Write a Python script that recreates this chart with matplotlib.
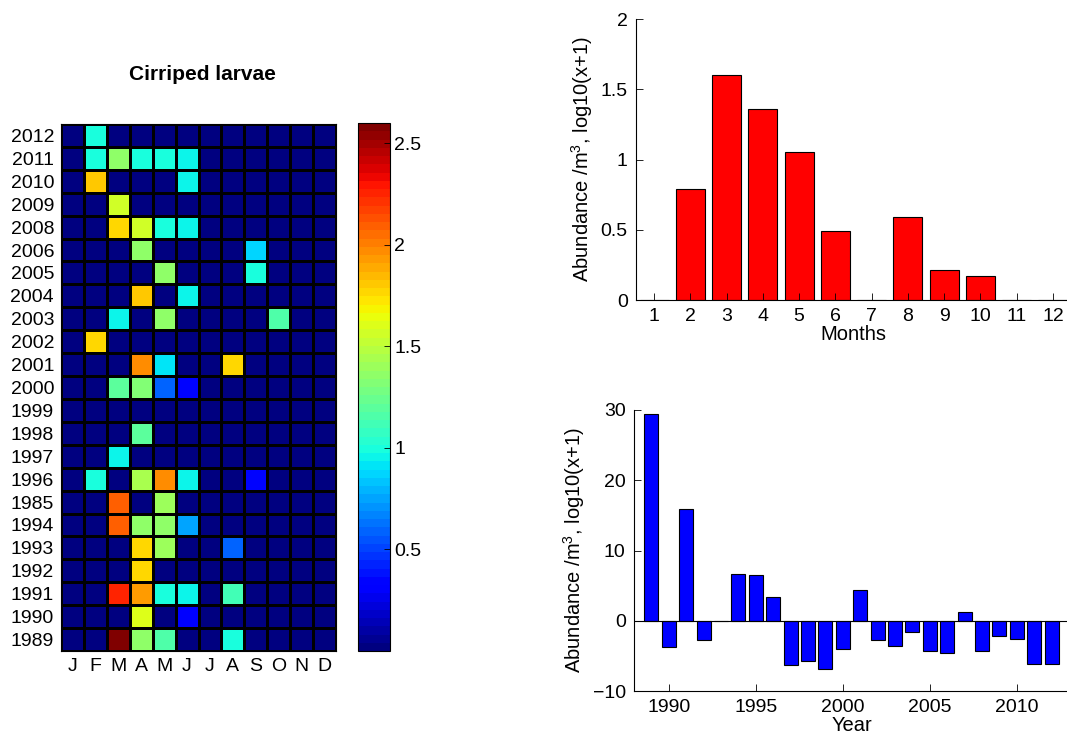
import numpy as np
import matplotlib
matplotlib.use("Agg")
import matplotlib.pyplot as plt
from matplotlib.ticker import FormatStrFormatter

plt.rcParams['font.family'] = ['Liberation Sans', 'DejaVu Sans']
plt.rcParams['mathtext.default'] = 'regular'

# ---------------- data ----------------
month_letters = ["J", "F", "M", "A", "M", "J", "J", "A", "S", "O", "N", "D"]
year_labels = ["2012", "2011", "2010", "2009", "2008", "2006", "2005", "2004",
               "2003", "2002", "2001", "2000", "1999", "1998", "1997", "1996",
               "1985", "1994", "1993", "1992", "1991", "1990", "1989"]
# heatmap rows, top to bottom (J..D)
heat_values = [
    [0, 0.98, 0, 0, 0, 0, 0, 0, 0, 0, 0, 0],            # 2012
    [0, 0.98, 1.35, 0.98, 0.98, 0.95, 0, 0, 0, 0, 0, 0],  # 2011
    [0, 1.80, 0, 0, 0, 0.95, 0, 0, 0, 0, 0, 0],          # 2010
    [0, 0, 1.55, 0, 0, 0, 0, 0, 0, 0, 0, 0],             # 2009
    [0, 0, 1.76, 1.55, 0.98, 0.95, 0, 0, 0, 0, 0, 0],    # 2008
    [0, 0, 0, 1.35, 0, 0, 0, 0, 0.88, 0, 0, 0],          # 2006
    [0, 0, 0, 0, 1.35, 0, 0, 0, 0.98, 0, 0, 0],          # 2005
    [0, 0, 0, 1.80, 0, 0.95, 0, 0, 0, 0, 0, 0],          # 2004
    [0, 0, 0.95, 0, 1.35, 0, 0, 0, 0, 1.15, 0, 0],       # 2003
    [0, 1.76, 0, 0, 0, 0, 0, 0, 0, 0, 0, 0],             # 2002
    [0, 0, 0, 1.95, 0.90, 0, 0, 1.76, 0, 0, 0, 0],       # 2001
    [0, 0, 1.20, 1.30, 0.60, 0.35, 0, 0, 0, 0, 0, 0],    # 2000
    [0, 0, 0, 0, 0, 0, 0, 0, 0, 0, 0, 0],                # 1999
    [0, 0, 0, 1.20, 0, 0, 0, 0, 0, 0, 0, 0],             # 1998
    [0, 0, 0.95, 0, 0, 0, 0, 0, 0, 0, 0, 0],             # 1997
    [0, 0.98, 0, 1.45, 1.95, 0.95, 0, 0, 0.35, 0, 0, 0], # 1996
    [0, 0, 2.10, 0, 1.40, 0, 0, 0, 0, 0, 0, 0],          # 1985
    [0, 0, 2.10, 1.35, 1.35, 0.75, 0, 0, 0, 0, 0, 0],    # 1994
    [0, 0, 0, 1.75, 1.40, 0, 0, 0.60, 0, 0, 0, 0],       # 1993
    [0, 0, 0, 1.75, 0, 0, 0, 0, 0, 0, 0, 0],             # 1992
    [0, 0, 2.25, 1.92, 0.98, 0.95, 0, 1.10, 0, 0, 0, 0], # 1991
    [0, 0, 0, 1.62, 0, 0.30, 0, 0, 0, 0, 0, 0],          # 1990
    [0, 0, 2.60, 1.38, 1.15, 0, 0, 1.00, 0, 0, 0, 0],    # 1989
]
colorbar_ticks = [0.5, 1, 1.5, 2, 2.5]

months = [1, 2, 3, 4, 5, 6, 7, 8, 9, 10, 11, 12]
monthly_abundance = [0, 0.79, 1.60, 1.36, 1.05, 0.49, 0, 0.59, 0.21, 0.17, 0, 0]

years = list(range(1989, 2013))
yearly_anomaly = [29.45, -3.7, 15.87, -2.76, 0, 6.65, 6.5, 3.37, -6.37, -5.7,
                  -6.84, -4.04, 4.37, -2.76, -3.56, -1.6, -4.37, -4.56, 1.28,
                  -4.37, -2.14, -2.57, -6.18, -6.18]

ylabel_text = 'Abundance /m$^{3}$, log10(x+1)'

# ---------------- figure ----------------
W, H = 1067, 740
fig = plt.figure(figsize=(W / 100, H / 100), dpi=100)

def fax(l, t, r, b):
    return [l / W, 1 - b / H, (r - l) / W, (b - t) / H]

FS = 14
LFS = 14.5

# heatmap
axh = fig.add_axes(fax(61, 124, 336, 651))
data = np.array(heat_values)
cmap = plt.get_cmap('jet', 64)
mesh = axh.pcolormesh(np.arange(len(month_letters) + 1), np.arange(len(year_labels) + 1),
                      data, cmap=cmap, vmin=0, vmax=2.6,
                      edgecolors='black', linewidth=0.8)
axh.set_xlim(0, len(month_letters))
axh.set_ylim(len(year_labels), 0)
axh.set_xticks(np.arange(len(month_letters)) + 0.5)
axh.set_xticklabels(month_letters)
axh.set_yticks(np.arange(len(year_labels)) + 0.5)
axh.set_yticklabels(year_labels)
axh.tick_params(length=0, labelsize=FS, pad=5)
for s in axh.spines.values():
    s.set_linewidth(0.8)
fig.text(202 / W, 1 - 75 / H, "Cirriped larvae", ha='center', va='center',
         fontsize=15, fontweight='bold')

# colorbar
cax = fig.add_axes(fax(358, 123, 390, 651))
cb = fig.colorbar(mesh, cax=cax, ticks=colorbar_ticks)
cb.ax.yaxis.set_major_formatter(FormatStrFormatter('%g'))
cb.ax.tick_params(labelsize=FS, direction='in', length=4, width=0.6, pad=3)
cb.outline.set_linewidth(0.8)

# top-right monthly bars
ax1 = fig.add_axes(fax(636, 19, 1071, 300))
ax1.bar(months, monthly_abundance, width=0.8, color='#ff0000', edgecolor='black', linewidth=0.8)
ax1.set_xlim(0.5, 12.5)
ax1.set_ylim(0, 2)
ax1.set_xticks(months)
ax1.set_yticks([0, 0.5, 1, 1.5, 2])
ax1.yaxis.set_major_formatter(FormatStrFormatter('%g'))
ax1.set_xlabel("Months", fontsize=LFS, labelpad=0)
ax1.set_ylabel(ylabel_text, fontsize=LFS, labelpad=4)
ax1.spines['top'].set_visible(False)
ax1.spines['right'].set_visible(False)
ax1.tick_params(direction='in', labelsize=FS, length=5, width=0.6, pad=6)

# bottom-right yearly bars
ax2 = fig.add_axes(fax(634, 410, 1069, 691))
ax2.bar(years, yearly_anomaly, width=0.8, color='#0000ff', edgecolor='black', linewidth=0.8)
ax2.axhline(0, color='black', linewidth=0.8)
ax2.set_xlim(1988, 2013)
ax2.set_ylim(-10, 30)
ax2.set_xticks([1990, 1995, 2000, 2005, 2010])
ax2.set_yticks([-10, 0, 10, 20, 30])
ax2.set_xlabel("Year", fontsize=LFS, labelpad=0)
ax2.set_ylabel(ylabel_text, fontsize=LFS, labelpad=4)
ax2.spines['top'].set_visible(False)
ax2.spines['right'].set_visible(False)
ax2.tick_params(direction='in', labelsize=FS, length=5, width=0.6, pad=6)

fig.savefig("out.png", dpi=100)
